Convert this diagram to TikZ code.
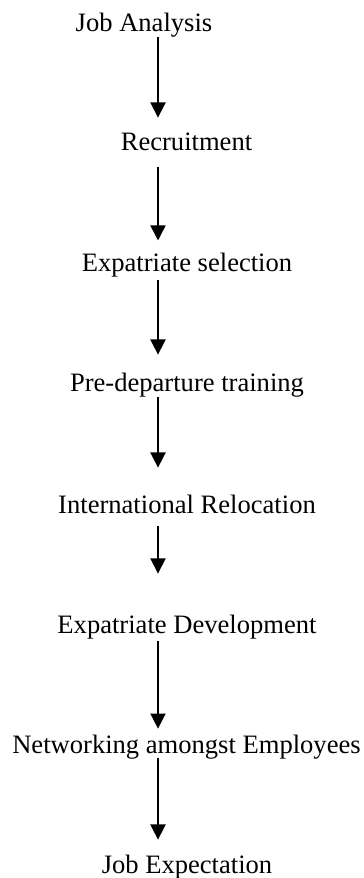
\documentclass[tikz,border=0pt]{standalone}
\usepackage{fontspec}
\setmainfont{Liberation Serif}
\usetikzlibrary{arrows.meta}
\begin{document}
\begin{tikzpicture}[x=0.476pt, y=-0.476pt,
  every node/.style={anchor=base, inner sep=0pt, text height=8.1pt, text depth=2.4pt,
    font=\fontsize{12.65}{15}\selectfont},
  flow/.style={line width=0.75pt, -{Triangle[width=7.2pt,length=7.2pt]}}]
  \useasboundingbox (0,0) rectangle (363,878);
  \coordinate (axis) at (158,0);

  \node (analysis)  at (144,31.7) {Job Analysis};
  \node (recruit)   at (186.5,151) {Recruitment};
  \node (selection) at (187,272) {Expatriate selection};
  \node (training)  at (187,392) {Pre-departure training};
  \node (relocate)  at (187,513) {International Relocation};
  \node (develop)   at (187,633) {Expatriate Development};
  \node (network)   at (186.5,753) {Networking amongst Employees};
  \node (expect)    at (187,873) {Job Expectation};

  \draw[flow, shorten >=7.6pt] (analysis.south -| axis) -- (recruit.north -| axis);
  \draw[flow, shorten <=4.8pt, shorten >=6.7pt] (recruit.south -| axis) -- (selection.north -| axis);
  \draw[flow, shorten <=1.4pt, shorten >=9.5pt] (selection.south -| axis) -- (training.north -| axis);
  \draw[flow, shorten >=13.3pt] (training.south -| axis) -- (relocate.north -| axis);
  \draw[flow, shorten <=3.8pt, shorten >=20pt] (relocate.south -| axis) -- (develop.north -| axis);
  \draw[flow, shorten <=1pt, shorten >=3.3pt] (develop.south -| axis) -- (network.north -| axis);
  \draw[flow, shorten >=7.6pt] (network.south -| axis) -- (expect.north -| axis);
\end{tikzpicture}
\end{document}
